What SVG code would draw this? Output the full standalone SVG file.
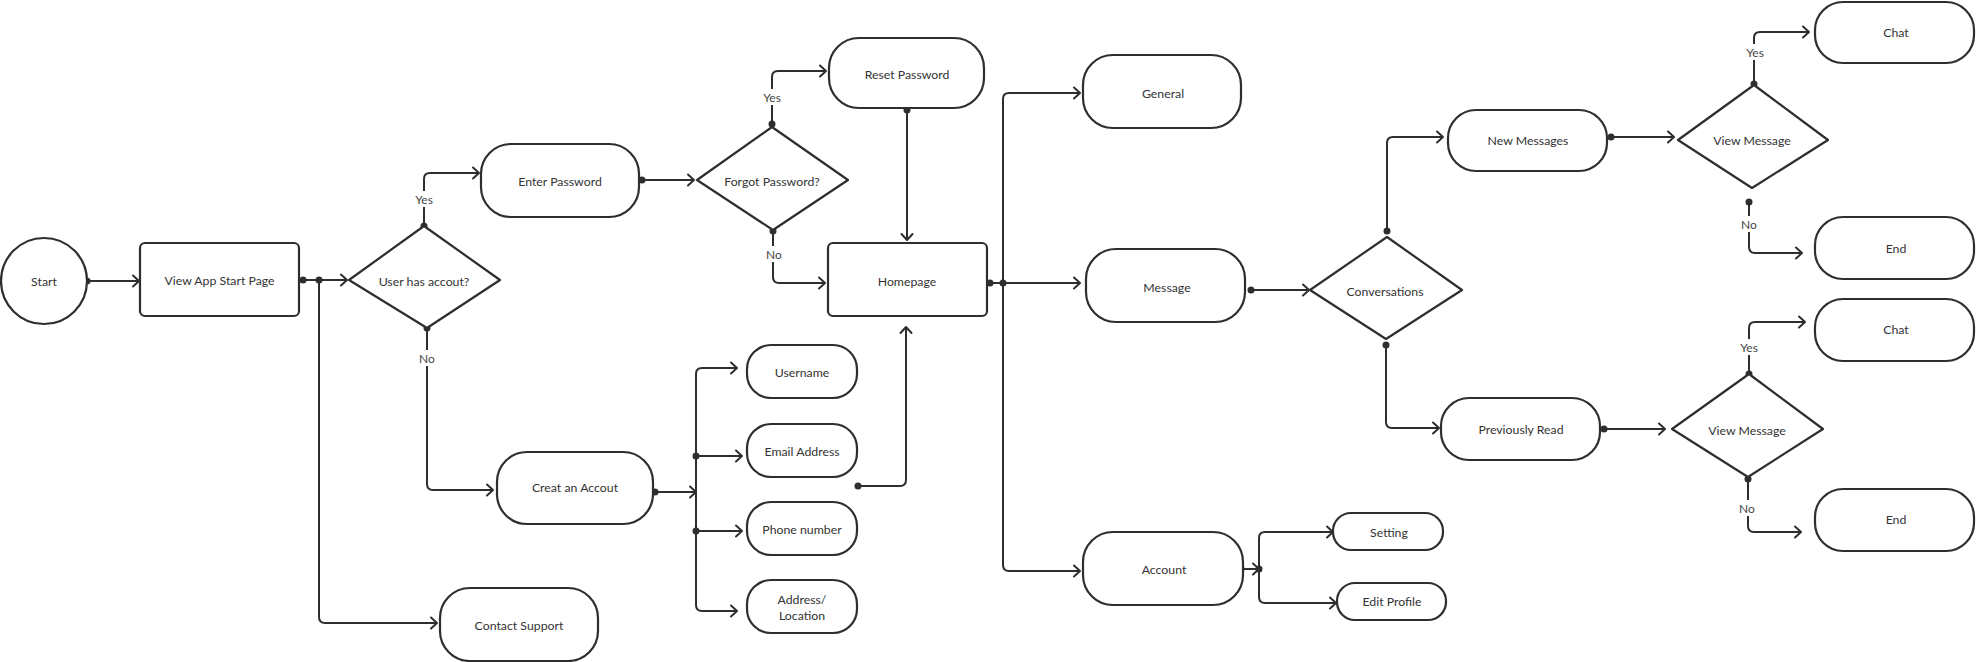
<svg xmlns="http://www.w3.org/2000/svg" width="1976" height="662" viewBox="0 0 1976 662">
<defs>
<style>
.n{fill:#fff;stroke:#2e2e2e;stroke-width:2.2;stroke-linejoin:round}
.t{font-family:Lato,"Noto Sans",sans-serif;font-size:12.3px;fill:#333;text-anchor:middle;dominant-baseline:central}
.c{fill:none;stroke:#2e2e2e;stroke-width:2;stroke-linejoin:round}
.d{fill:#2e2e2e}
.lb{fill:#fff}
.l{font-family:Lato,"Noto Sans",sans-serif;font-size:12px;fill:#444;text-anchor:middle;dominant-baseline:central}
</style>
<marker id="a" markerWidth="12" markerHeight="14" refX="9" refY="7" orient="auto" markerUnits="userSpaceOnUse">
<path d="M3,1.5 L9,7 L3,12.5" fill="none" stroke="#2e2e2e" stroke-width="2" stroke-linecap="round" stroke-linejoin="round"/>
</marker>
</defs>
<rect width="1976" height="662" fill="#fff"/>

<g id="connectors">
<path class="c" d="M87,281 H139" marker-end="url(#a)"/>
<path class="c" d="M303,280 H347" marker-end="url(#a)"/>
<path class="c" d="M319,280 V617 Q319,623 325,623 H437" marker-end="url(#a)"/>
<path class="c" d="M424,226 V179 Q424,173 430,173 H479" marker-end="url(#a)"/>
<path class="c" d="M427,328 V484 Q427,490 433,490 H493" marker-end="url(#a)"/>
<path class="c" d="M642,180 H694" marker-end="url(#a)"/>
<path class="c" d="M772,124 V77 Q772,71 778,71 H826" marker-end="url(#a)"/>
<path class="c" d="M773,231 V277 Q773,283 779,283 H825" marker-end="url(#a)"/>
<path class="c" d="M907,110 V240" marker-end="url(#a)"/>
<path class="c" d="M655,492 H696" marker-end="url(#a)"/>
<path class="c" d="M696,492 V374 Q696,368 702,368 H737" marker-end="url(#a)"/>
<path class="c" d="M696,492 V605 Q696,611 702,611 H737" marker-end="url(#a)"/>
<path class="c" d="M696,456 H742" marker-end="url(#a)"/>
<path class="c" d="M696,531 H742" marker-end="url(#a)"/>
<path class="c" d="M858,486 H900 Q906,486 906,480 V327" marker-end="url(#a)"/>
<path class="c" d="M990,283 H1080" marker-end="url(#a)"/>
<path class="c" d="M1003,283 V99 Q1003,93 1009,93 H1080" marker-end="url(#a)"/>
<path class="c" d="M1003,283 V565 Q1003,571 1009,571 H1080" marker-end="url(#a)"/>
<path class="c" d="M1251,290 H1309" marker-end="url(#a)"/>
<path class="c" d="M1387,231 V143 Q1387,137 1393,137 H1443" marker-end="url(#a)"/>
<path class="c" d="M1386,345 V422 Q1386,428 1392,428 H1439" marker-end="url(#a)"/>
<path class="c" d="M1611,137 H1674" marker-end="url(#a)"/>
<path class="c" d="M1754,84 V38 Q1754,32 1760,32 H1809" marker-end="url(#a)"/>
<path class="c" d="M1749,202 V247 Q1749,253 1755,253 H1802" marker-end="url(#a)"/>
<path class="c" d="M1604,429 H1665" marker-end="url(#a)"/>
<path class="c" d="M1749,374 V328 Q1749,322 1755,322 H1805" marker-end="url(#a)"/>
<path class="c" d="M1748,479 V526 Q1748,532 1754,532 H1801" marker-end="url(#a)"/>
<path class="c" d="M1241,569 H1259" marker-end="url(#a)"/>
<path class="c" d="M1259,569 V538 Q1259,532 1265,532 H1333" marker-end="url(#a)"/>
<path class="c" d="M1259,569 V597 Q1259,603 1265,603 H1336" marker-end="url(#a)"/>
<g class="d">
<circle cx="87" cy="281" r="3.5"/><circle cx="303" cy="280" r="3.5"/><circle cx="319" cy="280" r="3.5"/>
<circle cx="424" cy="226" r="3.5"/><circle cx="427" cy="328" r="3.5"/><circle cx="642" cy="180" r="3.5"/>
<circle cx="772" cy="124" r="3.5"/><circle cx="773" cy="231" r="3.5"/><circle cx="907" cy="110" r="3.5"/>
<circle cx="655" cy="492" r="3.5"/><circle cx="696" cy="456" r="3.5"/><circle cx="696" cy="531" r="3.5"/>
<circle cx="858" cy="486" r="3.5"/><circle cx="990" cy="283" r="3.5"/><circle cx="1003" cy="283" r="3.5"/>
<circle cx="1251" cy="290" r="3.5"/><circle cx="1387" cy="231" r="3.5"/><circle cx="1386" cy="345" r="3.5"/>
<circle cx="1611" cy="137" r="3.5"/><circle cx="1754" cy="84" r="3.5"/><circle cx="1749" cy="202" r="3.5"/>
<circle cx="1604" cy="429" r="3.5"/><circle cx="1749" cy="374" r="3.5"/><circle cx="1748" cy="479" r="3.5"/>
<circle cx="1241" cy="569" r="3.5"/><circle cx="1259" cy="569" r="3.5"/>
</g>
<g>
<rect class="lb" x="412" y="191" width="24" height="16"/><text class="l" x="424" y="199">Yes</text>
<rect class="lb" x="417" y="350" width="20" height="16"/><text class="l" x="427" y="358">No</text>
<rect class="lb" x="760" y="89" width="24" height="16"/><text class="l" x="772" y="97">Yes</text>
<rect class="lb" x="764" y="246" width="20" height="16"/><text class="l" x="774" y="254">No</text>
<rect class="lb" x="1743" y="44" width="24" height="16"/><text class="l" x="1755" y="52">Yes</text>
<rect class="lb" x="1739" y="216" width="20" height="16"/><text class="l" x="1749" y="224">No</text>
<rect class="lb" x="1737" y="339" width="24" height="16"/><text class="l" x="1749" y="347">Yes</text>
<rect class="lb" x="1737" y="500" width="20" height="16"/><text class="l" x="1747" y="508">No</text>
</g>
</g>

<g id="start"><circle class="n" cx="44" cy="281" r="43"/><text class="t" x="44" y="281">Start</text></g>
<g id="view-app"><rect class="n" x="140" y="243" width="159" height="73" rx="5"/><text class="t" x="219.5" y="280">View App Start Page</text></g>
<g id="user-has"><path class="n" d="M349,280 L424,226 L500,280 L427,328 Z"/><text class="t" x="424" y="281">User has accout?</text></g>
<g id="enter-pw"><rect class="n" x="481" y="144" width="158" height="73" rx="30"/><text class="t" x="560" y="181">Enter Password</text></g>
<g id="forgot"><path class="n" d="M697,180 L772,127 L848,180 L773,230 Z"/><text class="t" x="772" y="181">Forgot Password?</text></g>
<g id="reset-pw"><rect class="n" x="829" y="38" width="155" height="70" rx="30"/><text class="t" x="907" y="74">Reset Password</text></g>
<g id="homepage"><rect class="n" x="828" y="243" width="159" height="73" rx="5"/><text class="t" x="907" y="281">Homepage</text></g>
<g id="creat"><rect class="n" x="497" y="452" width="156" height="72" rx="30"/><text class="t" x="575" y="487">Creat an Accout</text></g>
<g id="username"><rect class="n" x="747" y="345" width="110" height="53" rx="24"/><text class="t" x="802" y="372">Username</text></g>
<g id="email"><rect class="n" x="747" y="424" width="110" height="53" rx="24"/><text class="t" x="802" y="451">Email Address</text></g>
<g id="phone"><rect class="n" x="747" y="502" width="110" height="53" rx="24"/><text class="t" x="802" y="529">Phone number</text></g>
<g id="address"><rect class="n" x="747" y="580" width="110" height="53" rx="24"/><text class="t" x="802" y="599">Address/</text><text class="t" x="802" y="615">Location</text></g>
<g id="contact"><rect class="n" x="440" y="588" width="158" height="73" rx="30"/><text class="t" x="519" y="625">Contact Support</text></g>
<g id="general"><rect class="n" x="1083" y="55" width="158" height="73" rx="30"/><text class="t" x="1163" y="93">General</text></g>
<g id="message"><rect class="n" x="1086" y="249" width="159" height="73" rx="30"/><text class="t" x="1167" y="287">Message</text></g>
<g id="conversations"><path class="n" d="M1310,290 L1387,237 L1462,290 L1386,339 Z"/><text class="t" x="1385" y="291">Conversations</text></g>
<g id="account"><rect class="n" x="1083" y="532" width="160" height="73" rx="30"/><text class="t" x="1164" y="569">Account</text></g>
<g id="setting"><rect class="n" x="1333" y="513" width="110" height="37" rx="18"/><text class="t" x="1389" y="532">Setting</text></g>
<g id="edit-profile"><rect class="n" x="1337" y="583" width="109" height="37" rx="18"/><text class="t" x="1392" y="601">Edit Profile</text></g>
<g id="new-messages"><rect class="n" x="1448" y="110" width="159" height="61" rx="28"/><text class="t" x="1528" y="140">New Messages</text></g>
<g id="view-msg-1"><path class="n" d="M1678,140 L1754,85 L1828,140 L1752,188 Z"/><text class="t" x="1752" y="140">View Message</text></g>
<g id="chat-1"><rect class="n" x="1815" y="2" width="159" height="61" rx="28"/><text class="t" x="1896" y="32">Chat</text></g>
<g id="end-1"><rect class="n" x="1815" y="217" width="159" height="62" rx="28"/><text class="t" x="1896" y="248">End</text></g>
<g id="prev-read"><rect class="n" x="1441" y="398" width="159" height="62" rx="28"/><text class="t" x="1521" y="429">Previously Read</text></g>
<g id="view-msg-2"><path class="n" d="M1672,429 L1749,374 L1823,429 L1748,477 Z"/><text class="t" x="1747" y="430">View Message</text></g>
<g id="chat-2"><rect class="n" x="1815" y="299" width="159" height="62" rx="28"/><text class="t" x="1896" y="329">Chat</text></g>
<g id="end-2"><rect class="n" x="1815" y="489" width="159" height="62" rx="28"/><text class="t" x="1896" y="519">End</text></g>
</svg>
